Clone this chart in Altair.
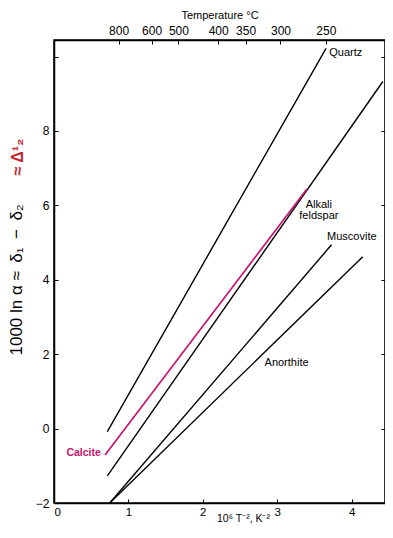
import altair as alt
import pandas as pd

# ---- data ----
minerals = ["Quartz", "Alkali feldspar", "Muscovite", "Anorthite", "Calcite"]
x_start = [0.717, 0.717, 0.749, 0.749, 0.686]
y_start = [-0.08, -1.27, -2.0, -2.0, -0.71]
x_end = [3.657, 4.42, 3.73, 4.15, 3.40]
y_end = [10.22, 9.33, 4.94, 4.62, 6.44]

# labels (anchor positions in data units)
lab_left_text = ["Quartz", "Muscovite", "Anorthite"]
lab_left_x = [3.70, 3.67, 2.83]
lab_left_y = [10.10, 5.15, 1.76]
lab_center_text = ["Alkali", "feldspar"]
lab_center_x = [3.56, 3.56]
lab_center_y = [6.02, 5.72]
calcite_label = ["Calcite"]
calcite_lx = [0.63]
calcite_ly = [-0.66]

bottom_ticks = [0, 1, 2, 3, 4]
left_ticks = [-2, 0, 2, 4, 6, 8, 10]
temps_c = [800, 600, 500, 400, 350, 300, 250]
temp_pos = [1e6 / (t + 273.15) ** 2 for t in temps_c]

FONT = "Liberation Sans"
MAGENTA = "#c8136e"

rows = []
for m, xs0, ys0, xs1, ys1 in zip(minerals, x_start, y_start, x_end, y_end):
    rows.append({"mineral": m, "x": xs0, "y": ys0})
    rows.append({"mineral": m, "x": xs1, "y": ys1})
df = pd.DataFrame(rows)
df_black = df[df.mineral != "Calcite"]
df_calc = df[df.mineral == "Calcite"]

xsc = alt.Scale(domain=[0, 4.449], nice=False, zero=False)
ysc = alt.Scale(domain=[-2, 10.446], nice=False, zero=False)

# Layer 1: black lines + bottom/left labelled axes
l1 = alt.Chart(df_black).mark_line(color="black", strokeWidth=1.4).encode(
    x=alt.X("x:Q", scale=xsc, axis=alt.Axis(
        orient="bottom", values=bottom_ticks, ticks=False, grid=False,
        domainColor="black", domainWidth=1.5, format="d",
        labelFont=FONT, labelFontSize=11.5, labelColor="black", labelPadding=3,
        title="10⁶ T⁻², K⁻²", titleFont=FONT, titleFontSize=10.5,
        titleFontWeight="normal", titleColor="black",
        titleX=189, titleY=15, titleBaseline="middle", titleAnchor="middle")),
    y=alt.Y("y:Q", scale=ysc, axis=alt.Axis(
        orient="left", values=left_ticks, ticks=False, grid=False,
        domainColor="black", domainWidth=1.5,
        labelExpr="datum.value == 10 ? '' : datum.label",
        labelFont=FONT, labelFontSize=12, labelColor="black", labelPadding=5,
        title=None)),
    detail="mineral:N",
)

# Layer 2: inward ticks bottom / left
l2 = alt.Chart(df_black).mark_line(opacity=0).encode(
    x=alt.X("x:Q", scale=xsc, axis=alt.Axis(
        orient="bottom", values=bottom_ticks[1:], offset=-4, tickSize=4,
        tickColor="black", tickWidth=1, labels=False, domain=False, grid=False, title=None)),
    y=alt.Y("y:Q", scale=ysc, axis=alt.Axis(
        orient="left", values=left_ticks[1:], offset=-4, tickSize=4,
        tickColor="black", tickWidth=1, labels=False, domain=False, grid=False, title=None)),
    detail="mineral:N",
)

# Layer 3: top temperature axis labels, right frame
l3 = alt.Chart(df_black).mark_line(opacity=0).encode(
    x=alt.X("x:Q", scale=xsc, axis=alt.Axis(
        orient="top", values=temp_pos, ticks=False, grid=False,
        domainColor="black", domainWidth=1.5,
        labelExpr="format(1000 / sqrt(datum.value) - 273.15, '.0f')",
        labelFont=FONT, labelFontSize=12, labelColor="black", labelPadding=3,
        title="Temperature °C", titleFont=FONT, titleFontSize=11,
        titleFontWeight="normal", titleColor="black", titlePadding=4)),
    y=alt.Y("y:Q", scale=ysc, axis=alt.Axis(
        orient="right", values=left_ticks, ticks=False, labels=False, grid=False,
        domainColor="black", domainWidth=1.5, title=None)),
    detail="mineral:N",
)

# Layer 4: inward ticks top / right
l4 = alt.Chart(df_black).mark_line(opacity=0).encode(
    x=alt.X("x:Q", scale=xsc, axis=alt.Axis(
        orient="top", values=temp_pos, offset=-4, tickSize=4,
        tickColor="black", tickWidth=1, labels=False, domain=False, grid=False, title=None)),
    y=alt.Y("y:Q", scale=ysc, axis=alt.Axis(
        orient="right", values=left_ticks[1:], offset=-4, tickSize=4,
        tickColor="black", tickWidth=1, labels=False, domain=False, grid=False, title=None)),
    detail="mineral:N",
)

# Calcite line
l5 = alt.Chart(df_calc).mark_line(color=MAGENTA, strokeWidth=1.7).encode(
    x=alt.X("x:Q", scale=xsc, axis=None),
    y=alt.Y("y:Q", scale=ysc, axis=None),
)

# Labels
lab_left = alt.Chart(pd.DataFrame({"t": lab_left_text, "x": lab_left_x, "y": lab_left_y})).mark_text(
    align="left", baseline="middle", font=FONT, fontSize=11, color="black"
).encode(x=alt.X("x:Q", scale=xsc, axis=None), y=alt.Y("y:Q", scale=ysc, axis=None), text="t:N")

lab_center = alt.Chart(pd.DataFrame({"t": lab_center_text, "x": lab_center_x, "y": lab_center_y})).mark_text(
    align="center", baseline="middle", font=FONT, fontSize=11, color="black"
).encode(x=alt.X("x:Q", scale=xsc, axis=None), y=alt.Y("y:Q", scale=ysc, axis=None), text="t:N")

lab_calc = alt.Chart(pd.DataFrame({"t": calcite_label, "x": calcite_lx, "y": calcite_ly})).mark_text(
    align="right", baseline="middle", font=FONT, fontSize=10.5, fontWeight="bold", color=MAGENTA
).encode(x=alt.X("x:Q", scale=xsc, axis=None), y=alt.Y("y:Q", scale=ysc, axis=None), text="t:N")

# y-axis title (black) and red handwritten note
ytitle = alt.Chart(pd.DataFrame({"t": ["1000 ln α ≈\u2002δ₁\u2002−\u2002δ₂"]})).mark_text(
    angle=270, align="center", baseline="middle", font=FONT, fontSize=17, color="black"
).encode(x=alt.value(-37), y=alt.value(240), text="t:N")

ynote = alt.Chart(pd.DataFrame({"t": ["≈ Δ¹₂"]})).mark_text(
    angle=270, align="center", baseline="middle", font=FONT, fontSize=16,
    fontWeight="bold", color="#c0262c"
).encode(x=alt.value(-36), y=alt.value(117), text="t:N")

chart = alt.layer(l1, l2, l3, l4, l5, lab_left, lab_center, lab_calc, ytitle, ynote).resolve_axis(
    x="independent", y="independent"
).properties(
    width=331, height=463,
    padding={"left": 46, "top": 32, "right": 0, "bottom": 21},
    autosize=alt.AutoSizeParams(type="none"),
).configure_view(stroke="black", strokeWidth=1.5)

chart.save("out.html", embed_options={"renderer": "svg", "actions": False})
